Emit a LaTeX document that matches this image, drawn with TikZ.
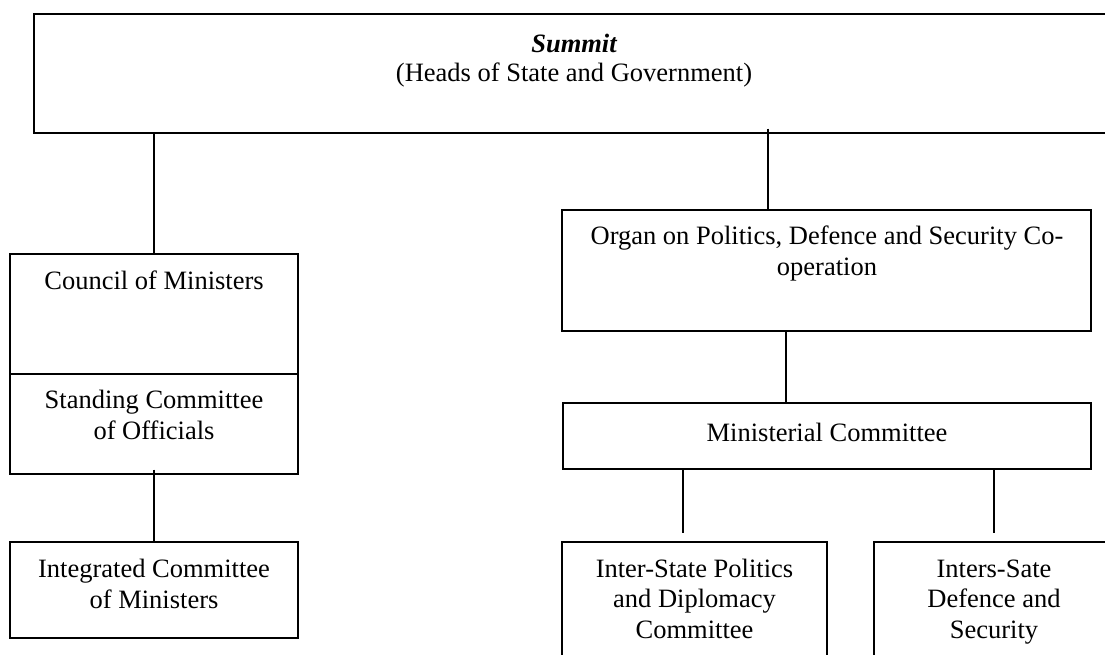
\documentclass[tikz,border=0pt]{standalone}
\usepackage{fontspec}
\setmainfont{Liberation Serif}
\begin{document}
\begin{tikzpicture}[x=1pt,y=-1pt,
  box/.style={draw, line width=1.3pt, inner sep=0pt, minimum width=#1},
  lbl/.style={inner sep=0pt, align=center, anchor=base,
              font=\fontsize{26.5}{30.5}\selectfont},
  link/.style={line width=1.2pt}]
\clip (0,0) rectangle (1105,655);

% boxes
\node[box=1091pt, minimum height=119pt, line width=1.5pt] (summit) at (579.5,73.5) {};
\node[box=288pt, minimum height=120pt] (council) at (154,314) {};
\node[box=288pt, minimum height=100pt] (standing) at (154,424) {};
\node[box=288pt, minimum height=96pt] (integrated) at (154,590) {};
\node[box=529pt, minimum height=121pt] (organ) at (826.5,270.5) {};
\node[box=528pt, minimum height=66pt] (ministerial) at (827,436) {};
\node[box=265pt, minimum height=138pt] (interstate) at (694.5,611) {};
\node[box=246pt, minimum height=138pt] (intersate) at (997,611) {};

% labels (base anchor = baseline of the last line)
\node[lbl, font=\fontsize{26.5}{30.5}\selectfont\bfseries\itshape] (summitT) at (574,53) {Summit};
\node[lbl] (summitS) at (574,82) {(Heads of State and Government)};
\node[lbl] (councilT) at (154,289) {Council of Ministers};
\node[lbl] (standingT) at (154,439) {Standing Committee\\of Officials};
\node[lbl] (integratedT) at (154,608) {Integrated Committee\\of Ministers};
\node[lbl] (organT) at (827,275) {Organ on Politics, Defence and Security Co-\\operation};
\node[lbl] (ministerialT) at (827,441) {Ministerial Committee};
\node[lbl] (interstateT) at (694.5,638) {Inter-State Politics\\and Diplomacy\\Committee};
\node[lbl] (intersateT) at (994,638) {Inters-Sate\\Defence and\\Security};

% tap points for off-centre connectors
\coordinate (tapOrgan) at (768,210);
\coordinate (tapMin) at (786,403);
\coordinate (tapIP) at (683,533);
\coordinate (tapID) at (994,533);

% connectors
\draw[link] (council.north) -- (council.north |- summit.south);
\draw[link] ([yshift=5pt]tapOrgan |- summit.south) -- (tapOrgan);
\draw[link] ([yshift=5pt]standing.south) -- (integrated.north);
\draw[link] (tapMin |- organ.south) -- (tapMin);
\draw[link] (tapIP |- ministerial.south) -- (tapIP);
\draw[link] (tapID |- ministerial.south) -- (tapID);
\end{tikzpicture}
\end{document}
